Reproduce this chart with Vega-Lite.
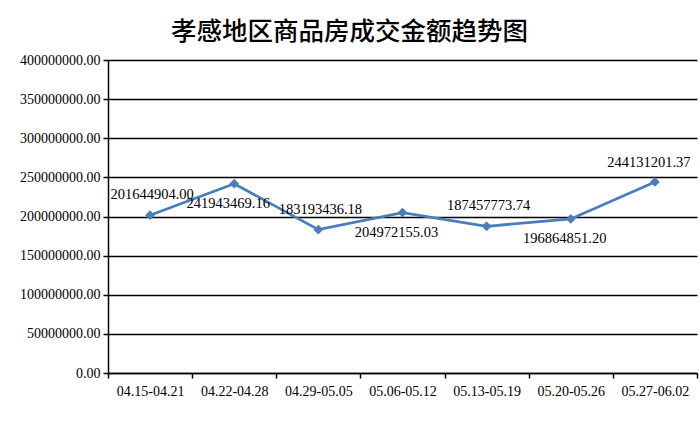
{
  "$schema": "https://vega.github.io/schema/vega-lite/v6.json",
  "width": 589,
  "height": 313,
  "autosize": {"type": "none"},
  "padding": {"left": 108, "top": 60, "right": 3, "bottom": 50},
  "background": "white",
  "title": {
    "text": "孝感地区商品房成交金额趋势图",
    "font": "Noto Sans CJK SC",
    "fontSize": 25.5,
    "fontWeight": 500,
    "color": "#000000",
    "anchor": "middle",
    "dx": -53,
    "offset": 8
  },
  "config": {
    "view": {"stroke": null},
    "axis": {
      "labelFont": "Liberation Serif",
      "labelFontSize": 14,
      "labelColor": "#000000",
      "domainColor": "#000000",
      "tickColor": "#000000",
      "gridColor": "#000000",
      "domainWidth": 1.5,
      "tickWidth": 1.5,
      "gridWidth": 1.3,
      "tickSize": 5,
      "title": null
    }
  },
  "data": {
    "values": [
      {"week": "04.15-04.21", "amount": 201644904.00},
      {"week": "04.22-04.28", "amount": 241943469.16},
      {"week": "04.29-05.05", "amount": 183193436.18},
      {"week": "05.06-05.12", "amount": 204972155.03},
      {"week": "05.13-05.19", "amount": 187457773.74},
      {"week": "05.20-05.26", "amount": 196864851.20},
      {"week": "05.27-06.02", "amount": 244131201.37}
    ]
  },
  "encoding": {
    "x": {
      "field": "week",
      "type": "nominal",
      "sort": null,
      "scale": {"type": "band", "paddingInner": 0, "paddingOuter": 0},
      "axis": {"labelAngle": 0, "tickBand": "extent", "labelPadding": 6, "grid": false}
    },
    "y": {
      "field": "amount",
      "type": "quantitative",
      "scale": {"domain": [0, 400000000], "nice": false},
      "axis": {
        "values": [0, 50000000, 100000000, 150000000, 200000000, 250000000, 300000000, 350000000, 400000000],
        "format": ".2f",
        "grid": true,
        "labelPadding": 3
      }
    }
  },
  "layer": [
    {
      "mark": {
        "type": "line",
        "color": "#4a7ebb",
        "strokeWidth": 2.8,
        "point": {"shape": "diamond", "size": 95, "filled": true, "color": "#4a7ebb"}
      }
    },
    {
      "transform": [{"filter": {"field": "week", "oneOf": ["04.15-04.21", "04.29-05.05", "05.13-05.19"]}}],
      "mark": {"type": "text", "font": "Liberation Serif", "fontSize": 14.5, "color": "#000000", "dy": -20, "dx": 2},
      "encoding": {"text": {"field": "amount", "type": "quantitative", "format": ".2f"}}
    },
    {
      "transform": [{"filter": {"field": "week", "oneOf": ["05.27-06.02"]}}],
      "mark": {"type": "text", "font": "Liberation Serif", "fontSize": 14.5, "color": "#000000", "dy": -19, "dx": -6},
      "encoding": {"text": {"field": "amount", "type": "quantitative", "format": ".2f"}}
    },
    {
      "transform": [{"filter": {"field": "week", "oneOf": ["04.22-04.28", "05.06-05.12", "05.20-05.26"]}}],
      "mark": {"type": "text", "font": "Liberation Serif", "fontSize": 14.5, "color": "#000000", "dy": 20, "dx": -6},
      "encoding": {"text": {"field": "amount", "type": "quantitative", "format": ".2f"}}
    }
  ]
}
